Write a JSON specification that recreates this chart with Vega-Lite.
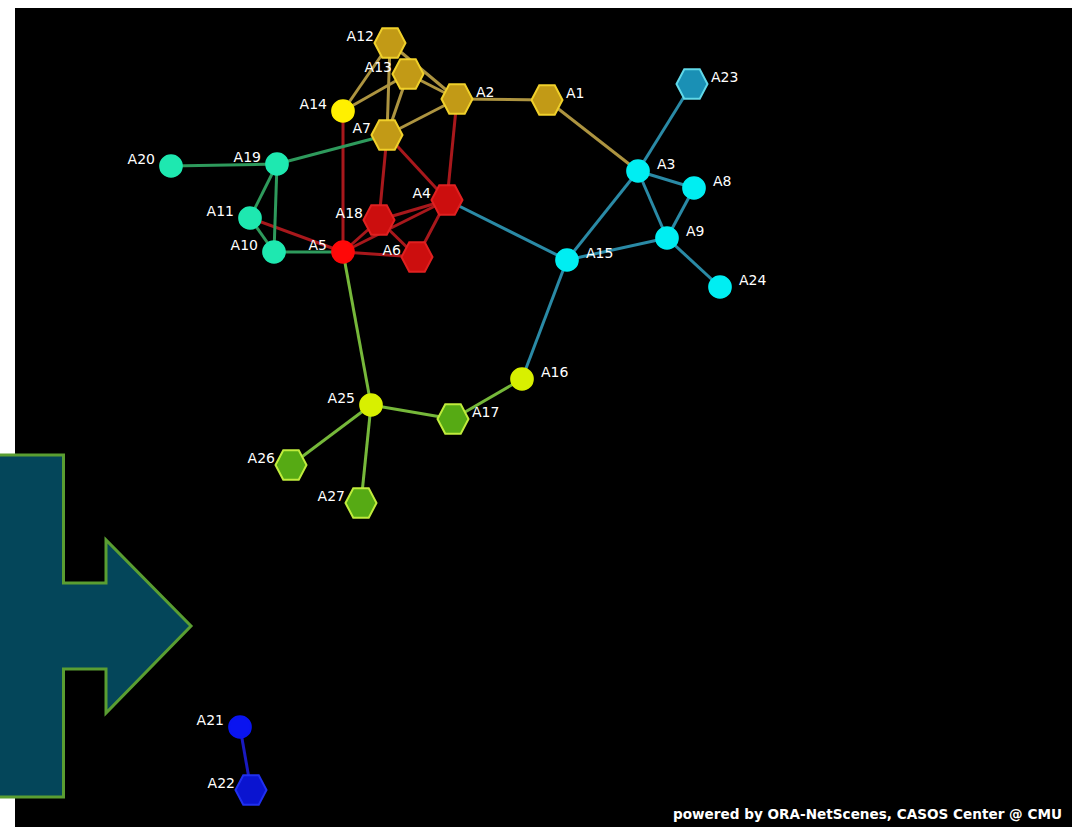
{
  "$schema": "https://vega.github.io/schema/vega-lite/v6.json",
  "width": 1057,
  "height": 819,
  "padding": {"left": 15, "top": 8, "right": 0, "bottom": 0},
  "autosize": {"type": "none"},
  "background": "#ffffff",
  "config": {"view": {"fill": "#000000", "stroke": null}},
  "datasets": {
    "nodes": [
      {"id": "A1", "x": 547, "y": 100, "grp": "gold", "kind": "hex", "side": "right"},
      {"id": "A2", "x": 457, "y": 99, "grp": "gold", "kind": "hex", "side": "right"},
      {"id": "A3", "x": 638, "y": 171, "grp": "cyan", "kind": "circle", "side": "right"},
      {"id": "A4", "x": 447, "y": 200, "grp": "red", "kind": "hex", "side": "left"},
      {"id": "A5", "x": 343, "y": 252, "grp": "brightred", "kind": "circle", "side": "left"},
      {"id": "A6", "x": 417, "y": 257, "grp": "red", "kind": "hex", "side": "left"},
      {"id": "A7", "x": 387, "y": 135, "grp": "gold", "kind": "hex", "side": "left"},
      {"id": "A8", "x": 694, "y": 188, "grp": "cyan", "kind": "circle", "side": "right"},
      {"id": "A9", "x": 667, "y": 238, "grp": "cyan", "kind": "circle", "side": "right"},
      {"id": "A10", "x": 274, "y": 252, "grp": "teal", "kind": "circle", "side": "left"},
      {"id": "A11", "x": 250, "y": 218, "grp": "teal", "kind": "circle", "side": "left"},
      {"id": "A12", "x": 390, "y": 43, "grp": "gold", "kind": "hex", "side": "left"},
      {"id": "A13", "x": 408, "y": 74, "grp": "gold", "kind": "hex", "side": "left"},
      {"id": "A14", "x": 343, "y": 111, "grp": "yellow", "kind": "circle", "side": "left"},
      {"id": "A15", "x": 567, "y": 260, "grp": "cyan", "kind": "circle", "side": "right"},
      {"id": "A16", "x": 522, "y": 379, "grp": "lime", "kind": "circle", "side": "right"},
      {"id": "A17", "x": 453, "y": 419, "grp": "green", "kind": "hex", "side": "right"},
      {"id": "A18", "x": 379, "y": 220, "grp": "red", "kind": "hex", "side": "left"},
      {"id": "A19", "x": 277, "y": 164, "grp": "teal", "kind": "circle", "side": "left"},
      {"id": "A20", "x": 171, "y": 166, "grp": "teal", "kind": "circle", "side": "left"},
      {"id": "A21", "x": 240, "y": 727, "grp": "navy", "kind": "circle", "side": "left"},
      {"id": "A22", "x": 251, "y": 790, "grp": "navyhex", "kind": "hex", "side": "left"},
      {"id": "A23", "x": 692, "y": 84, "grp": "steel", "kind": "hex", "side": "right"},
      {"id": "A24", "x": 720, "y": 287, "grp": "cyan", "kind": "circle", "side": "right"},
      {"id": "A25", "x": 371, "y": 405, "grp": "lime", "kind": "circle", "side": "left"},
      {"id": "A26", "x": 291, "y": 465, "grp": "green", "kind": "hex", "side": "left"},
      {"id": "A27", "x": 361, "y": 503, "grp": "green", "kind": "hex", "side": "left"}
    ],
    "edges": [
      {"s": "A12", "t": "A14", "eg": "e-gold"},
      {"s": "A12", "t": "A7", "eg": "e-gold"},
      {"s": "A12", "t": "A2", "eg": "e-gold"},
      {"s": "A13", "t": "A14", "eg": "e-gold"},
      {"s": "A13", "t": "A7", "eg": "e-gold"},
      {"s": "A13", "t": "A2", "eg": "e-gold"},
      {"s": "A7", "t": "A2", "eg": "e-gold"},
      {"s": "A2", "t": "A1", "eg": "e-gold"},
      {"s": "A1", "t": "A3", "eg": "e-gold"},
      {"s": "A14", "t": "A5", "eg": "e-red"},
      {"s": "A7", "t": "A18", "eg": "e-red"},
      {"s": "A7", "t": "A4", "eg": "e-red"},
      {"s": "A2", "t": "A4", "eg": "e-red"},
      {"s": "A4", "t": "A18", "eg": "e-red"},
      {"s": "A4", "t": "A6", "eg": "e-red"},
      {"s": "A4", "t": "A5", "eg": "e-red"},
      {"s": "A5", "t": "A18", "eg": "e-red"},
      {"s": "A18", "t": "A6", "eg": "e-red"},
      {"s": "A5", "t": "A6", "eg": "e-red"},
      {"s": "A11", "t": "A5", "eg": "e-red"},
      {"s": "A20", "t": "A19", "eg": "e-teal"},
      {"s": "A19", "t": "A11", "eg": "e-teal"},
      {"s": "A19", "t": "A10", "eg": "e-teal"},
      {"s": "A11", "t": "A10", "eg": "e-teal"},
      {"s": "A10", "t": "A5", "eg": "e-teal"},
      {"s": "A19", "t": "A7", "eg": "e-teal"},
      {"s": "A5", "t": "A25", "eg": "e-lime"},
      {"s": "A25", "t": "A17", "eg": "e-lime"},
      {"s": "A25", "t": "A26", "eg": "e-lime"},
      {"s": "A25", "t": "A27", "eg": "e-lime"},
      {"s": "A17", "t": "A16", "eg": "e-lime"},
      {"s": "A4", "t": "A15", "eg": "e-cyan"},
      {"s": "A15", "t": "A3", "eg": "e-cyan"},
      {"s": "A15", "t": "A9", "eg": "e-cyan"},
      {"s": "A3", "t": "A23", "eg": "e-cyan"},
      {"s": "A3", "t": "A8", "eg": "e-cyan"},
      {"s": "A3", "t": "A9", "eg": "e-cyan"},
      {"s": "A8", "t": "A9", "eg": "e-cyan"},
      {"s": "A9", "t": "A24", "eg": "e-cyan"},
      {"s": "A15", "t": "A16", "eg": "e-cyan"},
      {"s": "A21", "t": "A22", "eg": "e-navy"}
    ],
    "arrow": [
      {"i": 0, "px": -5, "py": 455},
      {"i": 1, "px": 63.5, "py": 455},
      {"i": 2, "px": 63.5, "py": 583},
      {"i": 3, "px": 106, "py": 583},
      {"i": 4, "px": 106, "py": 540},
      {"i": 5, "px": 191, "py": 626},
      {"i": 6, "px": 106, "py": 713},
      {"i": 7, "px": 106, "py": 669},
      {"i": 8, "px": 63.5, "py": 669},
      {"i": 9, "px": 63.5, "py": 797},
      {"i": 10, "px": -5, "py": 797}
    ]
  },
  "resolve": {"scale": {"color": "independent", "fill": "independent", "stroke": "independent"}},
  "layer": [
    {
      "data": {"name": "edges"},
      "transform": [
        {"lookup": "s", "from": {"data": {"name": "nodes"}, "key": "id", "fields": ["x", "y"]}, "as": ["sx", "sy"]},
        {"lookup": "t", "from": {"data": {"name": "nodes"}, "key": "id", "fields": ["x", "y"]}, "as": ["tx", "ty"]}
      ],
      "mark": {"type": "rule", "strokeWidth": 3},
      "encoding": {
        "x": {"field": "sx", "type": "quantitative", "axis": null, "scale": {"domain": [15, 1072], "nice": false, "zero": false}},
        "y": {"field": "sy", "type": "quantitative", "axis": null, "scale": {"domain": [8, 827], "nice": false, "zero": false, "reverse": true}},
        "x2": {"field": "tx"},
        "y2": {"field": "ty"},
        "color": {"field": "eg", "type": "nominal", "legend": null,
          "scale": {"domain": ["e-gold", "e-red", "e-teal", "e-lime", "e-cyan", "e-navy"],
                    "range": ["#AD9440", "#A8181C", "#2E9A5C", "#76B83A", "#2A8AA6", "#1A1AC0"]}}
      }
    },
    {
      "data": {"name": "nodes"},
      "mark": {"type": "point", "filled": true, "opacity": 1, "strokeWidth": 2},
      "encoding": {
        "x": {"field": "x", "type": "quantitative"},
        "y": {"field": "y", "type": "quantitative"},
        "shape": {"field": "kind", "type": "nominal", "legend": null,
          "scale": {"domain": ["circle", "hex"], "range": ["circle", "M -1 0 L -0.5 -0.95 L 0.5 -0.95 L 1 0 L 0.5 0.95 L -0.5 0.95 Z"]}},
        "size": {"field": "kind", "type": "nominal", "legend": null,
          "scale": {"domain": ["circle", "hex"], "range": [470, 961]}},
        "fill": {"field": "grp", "type": "nominal", "legend": null,
          "scale": {"domain": ["gold", "yellow", "red", "brightred", "cyan", "steel", "teal", "lime", "green", "navy", "navyhex"],
                    "range": ["#C29A16", "#FFF000", "#CC0E0E", "#FF0808", "#00EEF2", "#1A90B5", "#1EE8B0", "#D8F000", "#56AA14", "#0A14F0", "#0A14D0"]}},
        "stroke": {"field": "grp", "type": "nominal", "legend": null,
          "scale": {"domain": ["gold", "yellow", "red", "brightred", "cyan", "steel", "teal", "lime", "green", "navy", "navyhex"],
                    "range": ["#F0D02A", "#FFF000", "#E02020", "#FF0808", "#00EEF2", "#60D8E8", "#1EE8B0", "#D8F000", "#C0EC3C", "#0A14F0", "#2030F0"]}}
      }
    },
    {
      "data": {"name": "nodes"},
      "transform": [{"filter": "datum.side === 'left'"}],
      "mark": {"type": "text", "align": "right", "baseline": "middle", "dx": -16, "dy": -6, "font": "DejaVu Sans", "fontSize": 14, "color": "#ffffff"},
      "encoding": {
        "x": {"field": "x", "type": "quantitative"},
        "y": {"field": "y", "type": "quantitative"},
        "text": {"field": "id"}
      }
    },
    {
      "data": {"name": "nodes"},
      "transform": [{"filter": "datum.side === 'right'"}],
      "mark": {"type": "text", "align": "left", "baseline": "middle", "dx": 19, "dy": -6, "font": "DejaVu Sans", "fontSize": 14, "color": "#ffffff"},
      "encoding": {
        "x": {"field": "x", "type": "quantitative"},
        "y": {"field": "y", "type": "quantitative"},
        "text": {"field": "id"}
      }
    },
    {
      "data": {"name": "arrow"},
      "mark": {"type": "line", "interpolate": "linear-closed", "fill": "#04465A", "stroke": "#5A9E32", "strokeWidth": 3, "strokeJoin": "miter"},
      "encoding": {
        "x": {"field": "px", "type": "quantitative"},
        "y": {"field": "py", "type": "quantitative"},
        "order": {"field": "i", "type": "quantitative"}
      }
    },
    {
      "data": {"values": [{"note": "powered by ORA-NetScenes, CASOS Center @ CMU", "nx": 1062, "ny": 815}]},
      "mark": {"type": "text", "align": "right", "baseline": "middle", "font": "DejaVu Sans", "fontWeight": "bold", "fontSize": 13.6, "color": "#ffffff"},
      "encoding": {
        "x": {"field": "nx", "type": "quantitative"},
        "y": {"field": "ny", "type": "quantitative"},
        "text": {"field": "note"}
      }
    }
  ]
}
